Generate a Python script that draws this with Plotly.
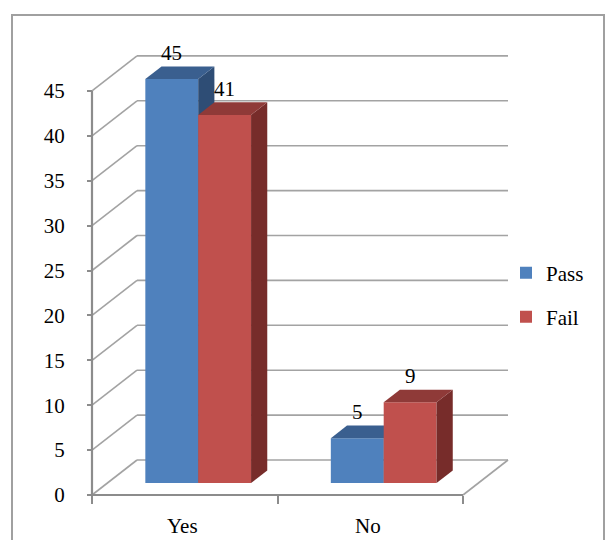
import plotly.graph_objects as go

# ---------------- data ----------------
categories = ["Yes", "No"]
series_names = ["Pass", "Fail"]
pass_values = [45, 5]
fail_values = [41, 9]
y_ticks = [0, 5, 10, 15, 20, 25, 30, 35, 40, 45]

# ---------------- styling / geometry ----------------
W, H = 607, 540
L, R, T, B = 90, 97, 48, 42
PW, PH = W - L - R, H - T - B
X_PX = 185.5           # pixels per category on the front plane
Y_PX = 8.98            # pixels per value unit
X0_PX, Y0_PX = 92, 495 # pixel position of x=0 / y=0 on the front plane
DX = 45 / X_PX         # depth offset (category units)
DY = 35 / Y_PX         # depth offset (value units)
F0, F1 = 0.34, 0.70    # bar front / back depth fractions
BW = 0.285             # bar width (category units)
GC = 0.49              # group centre within a category

xmin = -(X0_PX - L) / X_PX
xmax = xmin + PW / X_PX
ymin = -(H - B - Y0_PX) / Y_PX
ymax = ymin + PH / Y_PX

def pxx(px):
    return (px - L) / PW

def pxy(py):
    return (H - B - py) / PH

FONT = "Liberation Serif"
FS = 21
GRID = "#a3a3a3"
AXIS = "#8c8c8c"
colors = {
    "Pass": {"front": "#4f81bd", "top": "#3a5f8f", "side": "#2e4d75"},
    "Fail": {"front": "#c0504d", "top": "#8f3a38", "side": "#772c2a"},
}
ncat = len(categories)

fig = go.Figure()

def add_series(name, values, offset, xa, ya):
    c = colors[name]
    lefts = [i + GC + offset for i in range(len(values))]
    fig.add_trace(go.Bar(
        name=name, x=[xl + BW / 2 + F0 * DX for xl in lefts], y=values,
        base=[F0 * DY] * len(values), width=BW,
        marker=dict(color=c["front"], line=dict(width=0)),
        xaxis=xa, yaxis=ya, legend="legend" if name == "Pass" else "legend2",
        hoverinfo="skip"))
    for xl, v in zip(lefts, values):
        xr = xl + BW
        side_x = [xr + F0 * DX, xr + F0 * DX, xr + F1 * DX, xr + F1 * DX, xr + F0 * DX]
        side_y = [F0 * DY, v + F0 * DY, v + F1 * DY, F1 * DY, F0 * DY]
        top_x = [xl + F0 * DX, xr + F0 * DX, xr + F1 * DX, xl + F1 * DX, xl + F0 * DX]
        top_y = [v + F0 * DY, v + F0 * DY, v + F1 * DY, v + F1 * DY, v + F0 * DY]
        for xs, ys, col in ((side_x, side_y, c["side"]), (top_x, top_y, c["top"])):
            fig.add_trace(go.Scatter(
                x=xs, y=ys, mode="lines", fill="toself", fillcolor=col,
                line=dict(width=0, color=col), showlegend=False,
                hoverinfo="skip", xaxis=xa, yaxis=ya))
        fig.add_annotation(
            x=xl + BW / 2 + F0 * DX, y=v + F0 * DY, xref=xa, yref=ya,
            text=str(v), showarrow=False, yanchor="middle", yshift=26,
            font=dict(family=FONT, size=FS, color="#000"))

add_series("Pass", pass_values, -BW, "x", "y")
add_series("Fail", fail_values, 0.0, "x2", "y2")

# walls / floor lines computed from tick values
shapes = []
def seg(x0, y0, x1, y1, color=GRID, w=1.6):
    shapes.append(dict(type="line", xref="x", yref="y", x0=x0, y0=y0, x1=x1, y1=y1,
                       line=dict(color=color, width=w), layer="below"))

for v in y_ticks:
    seg(0, v, DX, v + DY)
    seg(DX, v + DY, ncat + DX, v + DY)
seg(ncat, 0, ncat + DX, DY)
seg(0, 0, ncat, 0, AXIS, 2.2)
seg(0, 0, 0, max(y_ticks), AXIS, 2.2)

# outer frame
shapes.append(dict(type="rect", xref="paper", yref="paper",
                   x0=pxx(12), x1=pxx(604), y0=pxy(15), y1=pxy(580),
                   line=dict(color="#a0a0a0", width=2), layer="below"))

# category labels
for i, cat in enumerate(categories):
    fig.add_annotation(x=i + 0.5, y=pxy(526), xref="x", yref="paper",
                       text=cat, showarrow=False, xshift=-2,
                       yanchor="middle",
                       font=dict(family=FONT, size=FS, color="#000"))

axis_common = dict(showgrid=False, zeroline=False)
fig.update_layout(
    width=W, height=H,
    margin=dict(l=L, r=R, t=T, b=B, pad=0),
    paper_bgcolor="white", plot_bgcolor="rgba(0,0,0,0)",
    shapes=shapes,
    barmode="overlay",
    xaxis=dict(range=[xmin, xmax], tickvals=list(range(ncat + 1)),
               ticktext=[""] * (ncat + 1), ticks="outside", ticklen=8,
               tickcolor=AXIS, tickwidth=1.6, showline=False,
               anchor="free", position=pxy(Y0_PX), **axis_common),
    yaxis=dict(range=[ymin, ymax], tickvals=y_ticks, ticks="outside", ticklen=5,
               tickcolor=AXIS, tickwidth=1.6, showline=False,
               anchor="free", position=pxx(X0_PX), ticklabelstandoff=18,
               tickfont=dict(family=FONT, size=FS, color="#000"), **axis_common),
    xaxis2=dict(range=[xmin, xmax], overlaying="x", visible=False, **axis_common),
    yaxis2=dict(range=[ymin, ymax], overlaying="y", visible=False, **axis_common),
    legend=dict(x=pxx(506), y=pxy(273), xanchor="left", yanchor="middle",
                font=dict(family=FONT, size=FS, color="#000"),
                bgcolor="rgba(0,0,0,0)", itemwidth=30, tracegroupgap=0),
    legend2=dict(x=pxx(506), y=pxy(317), xanchor="left", yanchor="middle",
                 font=dict(family=FONT, size=FS, color="#000"),
                 bgcolor="rgba(0,0,0,0)", itemwidth=30, tracegroupgap=0),
    showlegend=True,
)

fig.write_html("out.html")
